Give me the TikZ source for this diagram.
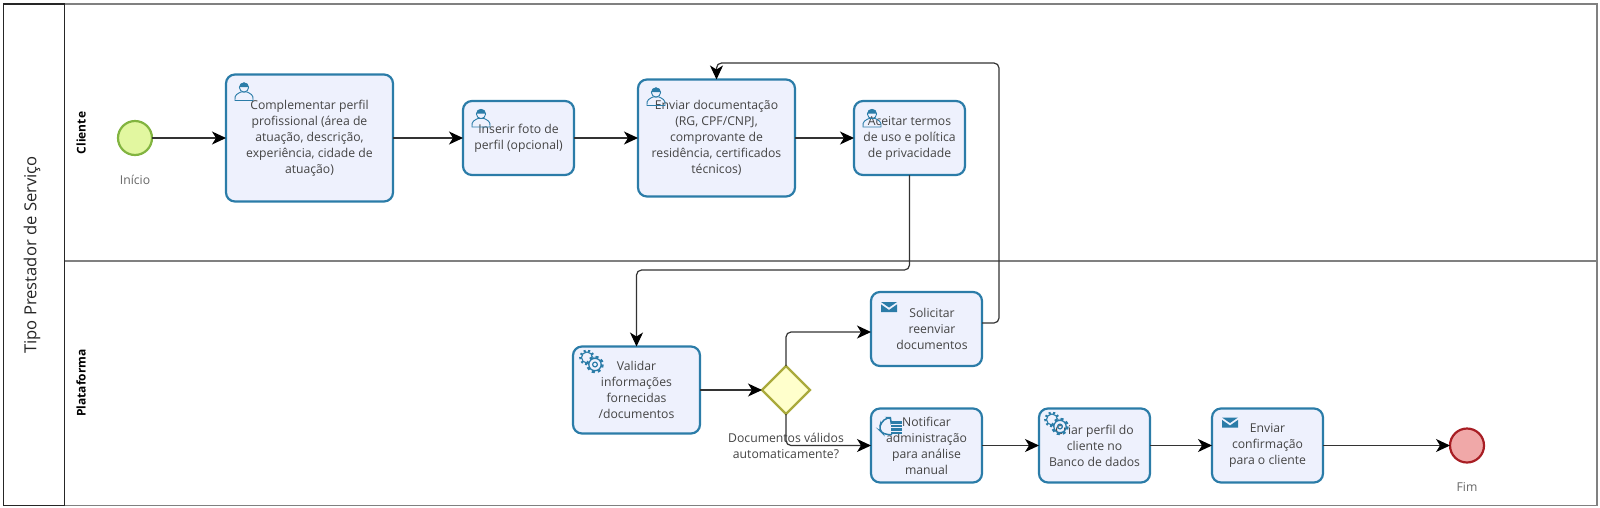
\documentclass[tikz,border=0pt]{standalone}
\usepackage{fontspec}
\setmainfont{Open Sans}
\usetikzlibrary{positioning,arrows.meta,shapes.geometric,calc}
\definecolor{azul}{HTML}{2B7CA8}
\definecolor{fundo}{HTML}{EEF1FD}
\definecolor{texto}{HTML}{444444}
\definecolor{verde}{HTML}{82B440}
\definecolor{verdeclaro}{HTML}{E2F7A0}
\definecolor{ouro}{HTML}{AAAA3C}
\definecolor{ouroclaro}{HTML}{FFFFCC}
\definecolor{vermelho}{HTML}{A81E24}
\definecolor{vermelhoclaro}{HTML}{F0A8A8}

\tikzset{
  usericon/.pic={
    \draw[azul, line width=0.9pt] (-9,9) .. controls (-10,3) and (-6,2) .. (-3,0.5)
       -- (3,0.5) .. controls (6,2) and (10,3) .. (9,9) -- cycle;
    \draw[azul, line width=0.9pt] (0,-4) circle (4.6);
    \fill[azul] (-4.6,-4.5) arc (180:360:4.6) -- cycle;
  },
  gearicon/.pic={
    \draw[azul, line width=1.1pt] (-6,-0.5) arc (90:360:5.5);
    \draw[azul, line width=2.2pt, dash pattern=on 2pt off 2.4pt] (-6,0.7) arc (90:360:6.7);
    \draw[azul, line width=1.3pt] (2,1) circle (6.2);
    \draw[azul, line width=2.4pt, dash pattern=on 3pt off 3pt] (2,1) circle (7.6);
    \draw[azul, line width=1.2pt] (2,1) circle (2.4);
  },
  mailicon/.pic={
    \fill[azul] (-8,-5) -- (8,-5) -- (0,0.5) -- cycle;
    \fill[azul] (-8,-2.6) -- (0,3) -- (8,-2.6) -- (8,5) -- (-8,5) -- cycle;
  },
  handicon/.pic={
    \draw[azul, line width=1.5pt, rounded corners=4pt]
       (2,9) -- (-6,9) -- (-11,4) -- (-9,-3) -- (-3,-8) -- (2,-8) -- (1,-4.5);
    \foreach \y in {-3,0.5,4,7.5} \draw[azul, line width=2.4pt] (1,\y) -- (12,\y);
  }
}

\begin{document}
\begin{tikzpicture}[x=1pt, y=-1pt, font=\fontsize{12.2pt}{16pt}\selectfont, text=texto,
      >={Stealth[length=14pt, width=13pt, inset=4pt, fill=black, black]},
      tarefa/.style={draw=azul, fill=fundo, rounded corners=9pt, line width=2.2pt, align=center,
                minimum width=111pt, minimum height=74pt, inner sep=0pt, outer sep=0pt},
      evento/.style={circle, line width=2.2pt, minimum size=34pt, inner sep=0pt, outer sep=0pt},
      fluxo/.style={->, draw=black!80, line width=1.2pt, rounded corners=5pt},
      raia/.style={font=\fontsize{12pt}{14pt}\selectfont\bfseries, text=black, rotate=90}]
    \useasboundingbox (0,0) rectangle (1600,507);
    % raias
    \draw[black!50, line width=1.1pt] (64.5,4) rectangle (1597,505.5);
    \draw[black!50, line width=1.1pt] (64.5,261) -- (1597,261);
    \draw[black!85, line width=1.1pt] (3.5,4) rectangle (64.5,505.5);
    \node[rotate=90, text=black!85, font=\fontsize{16.6pt}{18pt}\selectfont] (titulo) at (32,255) {Tipo Prestador de Serviço};
    \node[raia] (cliente) at (81,133) {Cliente};
    \node[raia] (plataforma) at (81,383) {Plataforma};

    \node[evento, draw=verde, fill=verdeclaro] (inicio) at (135,138) {};
    \node[text=black!60] (labelinicio) at (135,180) {Início};
    \node[tarefa, minimum height=127pt, minimum width=167pt] (compl) at (309.5,138)
        {Complementar perfil\\profissional (área de\\atuação, descrição,\\experiência, cidade de\\atuação)};
    \node[tarefa, right=70pt of compl] (foto) {Inserir foto de\\perfil (opcional)};
    \node[tarefa, minimum height=117pt, minimum width=157pt, right=64pt of foto] (envio)
        {Enviar documentação\\(RG, CPF/CNPJ,\\comprovante de\\residência, certificados\\técnicos)};
    \node[tarefa, right=59pt of envio] (termos) {Aceitar termos\\de uso e política\\de privacidade};

    \node[tarefa, minimum height=87pt, minimum width=127pt] (validar) at (636.5,390)
        {Validar\\informações\\fornecidas\\/documentos};
    \node[diamond, draw=ouro, fill=ouroclaro, line width=2.2pt, minimum size=48pt, inner sep=0pt, outer sep=0pt] (gw) at (786,390) {};
    \node[align=center] (labelgw) at (786,446) {Documentos válidos\\automaticamente?};
    \node[tarefa] (solicitar) at (926.5,329) {\hspace*{11pt}Solicitar\\\hspace*{11pt}reenviar\\\hspace*{11pt}documentos};
    \node[tarefa] (notificar) at (926.5,445.5) {Notificar\\administração\\para análise\\manual};
    \node[tarefa, right=57pt of notificar] (criar) {Criar perfil do\\cliente no\\Banco de dados};
    \node[tarefa, right=62pt of criar] (confirma) {Enviar\\confirmação\\para o cliente};
    \node[evento, draw=vermelho, fill=vermelhoclaro] (fim) at (1467,445.5) {};
    \node[text=black!60] (labelfim) at (1467,487) {Fim};

    \pic at ([shift={(18,17)}]compl.north west) {usericon};
    \pic at ([shift={(18,17)}]foto.north west) {usericon};
    \pic at ([shift={(18,17)}]envio.north west) {usericon};
    \pic at ([shift={(18,17)}]termos.north west) {usericon};
    \pic at ([shift={(20,17)}]validar.north west) {gearicon};
    \pic at ([shift={(18,15)}]solicitar.north west) {mailicon};
    \pic at ([shift={(19,17)}]notificar.north west) {handicon};
    \pic at ([shift={(19,17)}]criar.north west) {gearicon};
    \pic at ([shift={(18,14)}]confirma.north west) {mailicon};

    \coordinate (dobra) at (909.5,270);
    \coordinate (volta) at (999,63);
    \foreach \x/\y in {inicio/compl,compl/foto,foto/envio,envio/termos,validar/gw,notificar/criar,criar/confirma,confirma/fim}
      \draw[fluxo] (\x) -- (\y);
    \draw[fluxo] (termos.south) -- (dobra) -| (validar.north);
    \draw[fluxo] (gw.north) |- ([yshift=-3pt]solicitar.west);
    \draw[fluxo] (gw.south) |- (notificar.west);
    \draw[fluxo] ([yshift=6pt]solicitar.east) -| (volta) -| (envio.north);
\end{tikzpicture}
\end{document}
